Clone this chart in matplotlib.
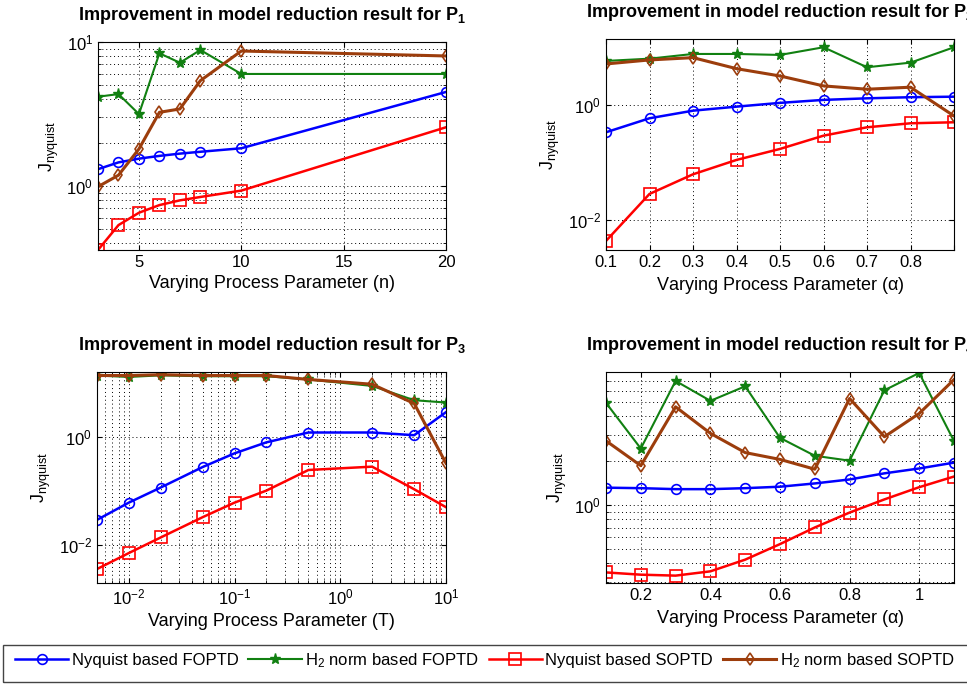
import numpy as np
import matplotlib
matplotlib.use("Agg")
import matplotlib.pyplot as plt
from matplotlib.patches import Rectangle
from matplotlib.ticker import LogLocator, NullLocator, NullFormatter, FixedLocator

plt.rcParams["font.family"] = ["Liberation Sans", "DejaVu Sans"]
plt.rcParams["mathtext.default"] = "regular"

# P1: varying n
n_vals = [3, 4, 5, 6, 7, 8, 10, 20]
p1_nyq_fo = [1.31, 1.46, 1.55, 1.62, 1.68, 1.73, 1.83, 4.5]
p1_h2_fo = [4.17, 4.35, 3.16, 8.35, 7.18, 8.8, 6.0, 6.0]
p1_nyq_so = [0.36, 0.536, 0.653, 0.738, 0.796, 0.84, 0.93, 2.56]
p1_h2_so = [0.99, 1.19, 1.81, 3.25, 3.43, 5.39, 8.66, 8.0]

# P2: varying alpha
a2_vals = [0.1, 0.2, 0.3, 0.4, 0.5, 0.6, 0.7, 0.8, 0.9]
p2_nyq_fo = [0.339, 0.594, 0.805, 0.946, 1.10, 1.24, 1.32, 1.38, 1.41]
p2_h2_fo = [5.9, 6.46, 7.8, 7.8, 7.5, 10.2, 4.58, 5.51, 10.2]
p2_nyq_so = [0.00437, 0.0287, 0.063, 0.112, 0.174, 0.296, 0.414, 0.486, 0.506]
p2_h2_so = [5.23, 6.14, 6.73, 4.33, 3.23, 2.17, 1.9, 2.06, 0.652]

# P3: varying T
t_vals = [0.005, 0.01, 0.02, 0.05, 0.1, 0.2, 0.5, 2, 5, 10]
p3_nyq_fo = [0.029, 0.0605, 0.115, 0.276, 0.494, 0.789, 1.2, 1.2, 1.07, 2.86]
p3_h2_fo = [13.6, 12.8, 13.7, 13.2, 13.2, 13.2, 11.5, 8.73, 4.75, 4.3]
p3_nyq_so = [0.00357, 0.00706, 0.0137, 0.0326, 0.0605, 0.101, 0.243, 0.28, 0.107, 0.0498]
p3_h2_so = [13.6, 13.6, 14.1, 13.6, 13.6, 13.6, 11.5, 9.38, 4.13, 0.323]

# P4: varying alpha
a4_vals = [0.1, 0.2, 0.3, 0.4, 0.5, 0.6, 0.7, 0.8, 0.9, 1.0, 1.1]
p4_nyq_fo = [1.31, 1.30, 1.28, 1.28, 1.30, 1.33, 1.40, 1.49, 1.64, 1.77, 1.94]
p4_h2_fo = [4.95, 2.42, 6.98, 5.11, 6.42, 2.86, 2.16, 2.0, 6.03, 7.91, 2.72]
p4_nyq_so = [0.347, 0.335, 0.33, 0.353, 0.424, 0.541, 0.702, 0.887, 1.09, 1.32, 1.56]
p4_h2_so = [2.73, 1.85, 4.65, 3.07, 2.27, 2.04, 1.75, 5.3, 2.91, 4.19, 7.13]

labels = ["Nyquist based FOPTD", "H$_2$ norm based FOPTD",
          "Nyquist based SOPTD", "H$_2$ norm based SOPTD"]
brown = "#9c3d0c"
green = "#118011"

W, H = 967, 685
fig = plt.figure(figsize=(W / 100, H / 100), dpi=100)


def make_ax(x0, y0, x1, y1):
    return fig.add_axes([x0 / W, 1 - y1 / H, (x1 - x0) / W, (y1 - y0) / H])


def draw(ax, x, fo, h2fo, so, h2so):
    l1, = ax.plot(x, fo, "-o", color="blue", lw=1.8, ms=7, mfc="none", mew=1.2)
    l2, = ax.plot(x, h2fo, "-*", color=green, lw=1.5, ms=8)
    l3, = ax.plot(x, so, "-s", color="red", lw=1.8, ms=8, mfc="none", mew=1.2)
    l4, = ax.plot(x, h2so, "-d", color=brown, lw=2.2, ms=6, mfc="none", mew=1.2)
    ax.set_yscale("log")
    ax.tick_params(direction="in", which="both", labelsize=12, top=True, right=True)
    ax.set_ylabel("J$_{nyquist}$", fontsize=13)
    return [l1, l2, l3, l4]


def style_grid(ax, which="major"):
    ax.grid(True, which=which, linestyle=(0, (1, 3)), color="black", lw=0.7)


title = "Improvement in model reduction result for P$_{%d}$"
title_kw = dict(fontsize=13, fontweight="bold", pad=16)

ax1 = make_ax(98, 42, 446, 250)
handles = draw(ax1, n_vals, p1_nyq_fo, p1_h2_fo, p1_nyq_so, p1_h2_so)
ax1.set_xlim(3, 20)
ax1.set_ylim(0.36, 10)
ax1.set_xticks([5, 10, 15, 20])
ax1.yaxis.set_major_locator(FixedLocator([1, 10]))
ax1.yaxis.set_minor_locator(LogLocator(base=10, subs=np.arange(2, 10)))
ax1.yaxis.set_minor_formatter(NullFormatter())
style_grid(ax1, "both")
ax1.set_xlabel("Varying Process Parameter (n)", fontsize=13)
ax1.set_title(title % 1, **title_kw)

ax2 = make_ax(606, 39, 954, 250)
draw(ax2, a2_vals, p2_nyq_fo, p2_h2_fo, p2_nyq_so, p2_h2_so)
ax2.set_xlim(0.1, 0.9)
ax2.set_ylim(0.00304, 14.2)
ax2.set_xticks([0.1, 0.2, 0.3, 0.4, 0.5, 0.6, 0.7, 0.8, 0.9])
ax2.set_xticklabels(["0.1", "0.2", "0.3", "0.4", "0.5", "0.6", "0.7", "0.8", ""])
ax2.yaxis.set_major_locator(FixedLocator([1e-2, 1]))
ax2.yaxis.set_minor_locator(NullLocator())
style_grid(ax2)
ax2.set_xlabel("Varying Process Parameter ($\\alpha$)", fontsize=13)
ax2.set_title(title % 2, **title_kw)

ax3 = make_ax(97, 372, 446, 583)
draw(ax3, t_vals, p3_nyq_fo, p3_h2_fo, p3_nyq_so, p3_h2_so)
ax3.set_xscale("log")
ax3.set_xlim(0.005, 10)
ax3.set_ylim(0.00197, 15.8)
ax3.xaxis.set_major_locator(FixedLocator([1e-2, 1e-1, 1, 10]))
ax3.xaxis.set_minor_locator(LogLocator(base=10, subs=np.arange(2, 10)))
ax3.xaxis.set_minor_formatter(NullFormatter())
ax3.yaxis.set_major_locator(FixedLocator([1e-2, 1]))
ax3.yaxis.set_minor_locator(NullLocator())
style_grid(ax3)
ax3.grid(True, axis="x", which="minor", linestyle=(0, (1, 3)), color="black", lw=0.7)
ax3.set_xlabel("Varying Process Parameter (T)", fontsize=13)
ax3.set_title(title % 3, **title_kw)

ax4 = make_ax(606, 372, 954, 583)
draw(ax4, a4_vals, p4_nyq_fo, p4_h2_fo, p4_nyq_so, p4_h2_so)
ax4.set_xlim(0.1, 1.1)
ax4.set_ylim(0.294, 8.03)
ax4.set_xticks([0.2, 0.4, 0.6, 0.8, 1.0])
ax4.set_xticklabels(["0.2", "0.4", "0.6", "0.8", "1"])
ax4.yaxis.set_major_locator(FixedLocator([1]))
ax4.yaxis.set_minor_locator(LogLocator(base=10, subs=np.arange(2, 10)))
ax4.yaxis.set_minor_formatter(NullFormatter())
ax4.grid(True, axis="x", which="major", linestyle=(0, (1, 3)), color="black", lw=0.7)
ax4.grid(True, axis="y", which="both", linestyle=(0, (1, 3)), color="black", lw=0.7)
ax4.set_xlabel("Varying Process Parameter ($\\alpha$)", fontsize=13)
ax4.set_title(title % 4, **title_kw)

# legend box
fig.patches.append(Rectangle((3 / W, 1 - 682 / H), 970 / W, 37 / H,
                             transform=fig.transFigure, fill=False,
                             edgecolor="#444444", lw=1))
fig.legend(handles, labels, loc="upper left", bbox_to_anchor=(0 / W, 1 - 636 / H),
           ncol=4, frameon=False, fontsize=12, handlelength=3.2,
           handletextpad=0.2, columnspacing=0.6)

fig.savefig("out.png", dpi=100)
